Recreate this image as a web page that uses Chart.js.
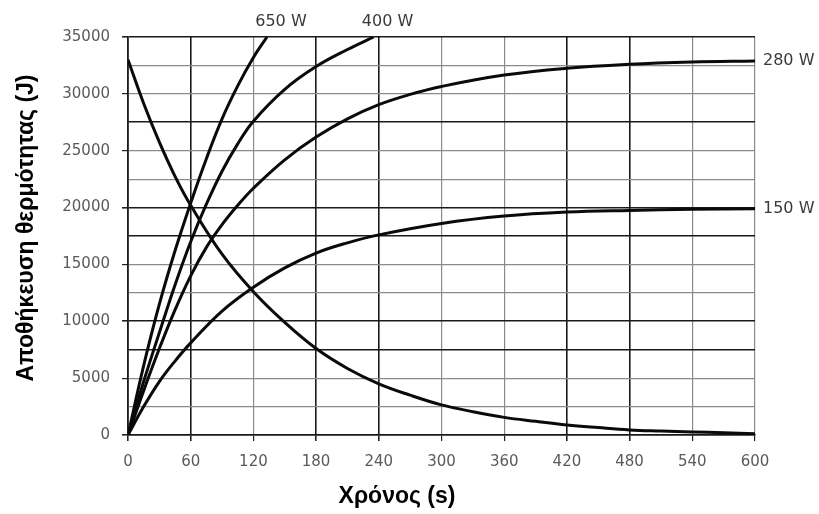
<!DOCTYPE html>
<html>
<head>
<meta charset="utf-8">
<script src="https://cdn.jsdelivr.net/npm/chart.js@4/dist/chart.umd.min.js"></script>
<style>
  html,body{margin:0;padding:0;background:#fff;}
  #wrap{width:819px;height:514px;}
</style>
</head>
<body>
<div id="wrap"><canvas id="chart" width="819" height="514"></canvas></div>
<script>
// time axis (s) and stored heat (J)
const tDecay  = [0,15,30,45,60,90,120,150,180,210,240,270,300,330,360,390,420,450,480,510,540,570,600];
const jDecay  = [33000,29150,25750,22750,20200,15900,12600,9900,7600,5850,4500,3500,2650,2050,1550,1200,880,650,450,350,270,200,120];

const t650 = [0,15,30,45,60,75,90,105,120,133];
const j650 = [0,6100,11500,16200,20400,24300,27800,30700,33200,35000];

const t400 = [0,15,30,45,60,75,90,105,120,150,180,210,235];
const j400 = [0,4700,9000,13200,17000,20300,23200,25600,27600,30400,32400,33900,35000];

const t280 = [0,15,30,45,60,75,90,105,120,150,180,210,240,270,300,360,420,480,540,600];
const j280 = [0,3900,7600,11000,14000,16500,18500,20200,21700,24200,26200,27800,29050,29950,30650,31650,32250,32600,32800,32900];

const t150 = [0,15,30,45,60,90,120,150,180,210,240,300,360,420,480,540,600];
const j150 = [0,2500,4700,6500,8100,10900,13000,14700,16000,16900,17600,18600,19250,19600,19750,19850,19900];

const seriesNames = ['650 W','400 W','280 W','150 W'];
const xTitle = 'Χρόνος (s)';
const yTitle = 'Αποθήκευση θερμότητας (J)';

// grid lines that print darker in the original scan
const darkX = [0,60,180,240,420,480];
const darkY = [0,7500,10000,17500,20000,27500,35000];

function pts(xs, ys){ return xs.map((x,i)=>({x, y:ys[i]})); }

function line(label, data){
  return {label, data, borderColor:'#0a0a0a', borderWidth:3, pointRadius:0,
    fill:false, tension:0.4};
}

const tickFont = {family:'"DejaVu Sans", Verdana, sans-serif', size:15};

// curve names + axis titles drawn by hand
const annotate = {
  id:'annotate',
  afterDraw(chart){
    const {ctx, chartArea:a, scales:{x,y}} = chart;
    const ds = chart.data.datasets;
    ctx.save();
    ctx.fillStyle = '#3a3a3a';
    ctx.font = '16px "DejaVu Sans", Verdana, sans-serif';
    ctx.textBaseline = 'middle';
    // curves leaving the top
    [0,1].forEach(i=>{
      const d = ds[i].data, last = d[d.length-1];
      ctx.textAlign = 'center';
      ctx.fillText(ds[i].label, x.getPixelForValue(last.x)+14, a.top-15);
    });
    // curves ending on the right edge
    [2,3].forEach(i=>{
      const d = ds[i].data, last = d[d.length-1];
      ctx.textAlign = 'left';
      ctx.fillText(ds[i].label, a.right+8, y.getPixelForValue(last.y));
    });
    ctx.fillStyle = '#000';
    ctx.font = 'bold 23px "Liberation Sans", Arial, sans-serif';
    ctx.textAlign = 'center';
    ctx.fillText(xTitle, 397, 497);
    ctx.translate(27, 228);
    ctx.rotate(-Math.PI/2);
    ctx.fillText(yTitle, 0, 0);
    ctx.restore();
  }
};

new Chart(document.getElementById('chart'), {
  type:'line',
  data:{ datasets:[
    line(seriesNames[0], pts(t650, j650)),
    line(seriesNames[1], pts(t400, j400)),
    line(seriesNames[2], pts(t280, j280)),
    line(seriesNames[3], pts(t150, j150)),
    line('', pts(tDecay, jDecay))
  ]},
  options:{
    responsive:false, animation:false,
    layout:{padding:{top:37, right:64, left:0, bottom:0}},
    plugins:{legend:{display:false}, tooltip:{enabled:false}},
    scales:{
      x:{
        type:'linear', min:0, max:600,
        afterFit(s){ s.height = 79; },
        ticks:{stepSize:60, color:'#5a5a5a', font:tickFont, padding:12, maxRotation:0},
        grid:{
          color:c=>darkX.includes(c.tick.value)?'#1a1a1a':'#8a8a8a',
          lineWidth:c=>darkX.includes(c.tick.value)?1.6:1.2,
          tickLength:6, tickColor:'#222'
        },
        border:{display:true, color:'#1a1a1a', width:1.6}
      },
      y:{
        min:0, max:35000,
        afterFit(s){ s.width = 128; },
        ticks:{stepSize:2500, color:'#5a5a5a', font:tickFont, padding:12,
          callback:v=> v%5000===0 ? String(v) : ''},
        grid:{
          color:c=>darkY.includes(c.tick.value)?'#1a1a1a':'#8a8a8a',
          lineWidth:c=>darkY.includes(c.tick.value)?1.6:1.2,
          tickLength:6,
          tickColor:c=> c.tick.value%5000===0 ? '#222' : 'rgba(0,0,0,0)'
        },
        border:{display:true, color:'#1a1a1a', width:1.6}
      }
    }
  },
  plugins:[annotate]
});
</script>
</body>
</html>
